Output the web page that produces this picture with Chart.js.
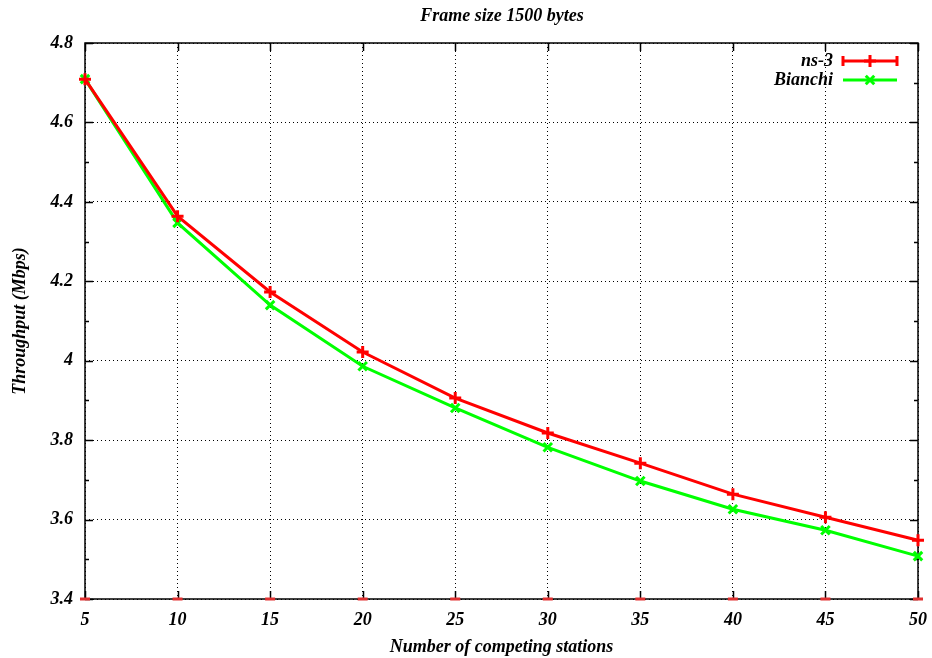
<!DOCTYPE html>
<html>
<head>
<meta charset="utf-8">
<script src="https://cdn.jsdelivr.net/npm/chart.js@4/dist/chart.umd.min.js"></script>
<style>
  html, body { margin: 0; padding: 0; background: #fff; }
  #c { display: block; }
</style>
</head>
<body>
<canvas id="c" width="932" height="658"></canvas>
<script>
// --- datos ---
const stations = [5, 10, 15, 20, 25, 30, 35, 40, 45, 50];
const ns3 = [4.709, 4.364, 4.173, 4.022, 3.906, 3.818, 3.742, 3.664, 3.606, 3.548];
const bianchi = [4.709, 4.347, 4.140, 3.986, 3.881, 3.782, 3.697, 3.626, 3.573, 3.508];
const floorMarks = [3.4, 3.4, 3.4, 3.4, 3.4, 3.4, 3.4, 3.4, 3.4, 3.4];
const seriesNames = ['ns-3', 'Bianchi'];

const FONT = 'Liberation Serif, Times New Roman, serif';
const RED = '#ff0000';
const GREEN = '#00ff00';

function pts(ys) {
    return stations.map((x, i) => ({ x: x, y: ys[i] }));
}

// marco, ticks hacia adentro, titulo y leyenda estilo gnuplot
const gnuplotLook = {
    id: 'gnuplotLook',
    beforeDatasetsDraw(chart) {
        const ctx = chart.ctx;
        const { left, right, top, bottom } = chart.chartArea;
        const xs = chart.scales.x, ys = chart.scales.y;
        ctx.save();
        ctx.strokeStyle = '#000';
        ctx.lineWidth = 1.5;
        ctx.setLineDash([]);
        ctx.strokeRect(left, top, right - left, bottom - top);

        ctx.beginPath();
        stations.forEach(v => {
            const px = Math.round(xs.getPixelForValue(v)) + 0.5;
            ctx.moveTo(px, bottom); ctx.lineTo(px, bottom - 8);
            ctx.moveTo(px, top); ctx.lineTo(px, top + 8);
        });
        for (let k = 0; k <= 14; k++) {
            const v = 3.4 + k * 0.1;
            const py = Math.round(ys.getPixelForValue(v)) + 0.5;
            const len = (k % 2 === 0) ? 8 : 4;
            ctx.moveTo(left, py); ctx.lineTo(left + len, py);
            ctx.moveTo(right, py); ctx.lineTo(right - len, py);
        }
        ctx.stroke();
        ctx.restore();
    },
    afterDraw(chart) {
        const ctx = chart.ctx;
        ctx.save();
        // titulo
        ctx.fillStyle = '#000';
        ctx.font = 'italic bold 18px ' + FONT;
        ctx.textAlign = 'center';
        ctx.textBaseline = 'middle';
        ctx.fillText('Frame size 1500 bytes', 502, 16);

        // leyenda
        const entries = [
            { label: seriesNames[0], color: RED, style: 'cross', y: 61 },
            { label: seriesNames[1], color: GREEN, style: 'crossRot', y: 80 }
        ];
        entries.forEach(e => {
            ctx.fillStyle = '#000';
            ctx.font = 'italic bold 18px ' + FONT;
            ctx.textAlign = 'right';
            ctx.fillText(e.label, 833, e.y);
            ctx.strokeStyle = e.color;
            ctx.lineWidth = 3;
            ctx.beginPath();
            ctx.moveTo(843, e.y); ctx.lineTo(897, e.y);
            if (e.style === 'cross') {
                ctx.moveTo(843, e.y - 5); ctx.lineTo(843, e.y + 5);
                ctx.moveTo(897, e.y - 5); ctx.lineTo(897, e.y + 5);
            }
            ctx.stroke();
            Chart.helpers.drawPoint(ctx, {
                pointStyle: e.style, radius: 6, borderWidth: 3
            }, 870, e.y);
        });
        ctx.restore();
    }
};

new Chart(document.getElementById('c'), {
    type: 'line',
    data: {
        datasets: [
            {
                label: 'floor',
                data: pts(floorMarks),
                showLine: false,
                borderColor: '#e03030',
                backgroundColor: '#e03030',
                pointStyle: 'line',
                pointRadius: 5,
                pointBorderWidth: 3,
                clip: false
            },
            {
                label: seriesNames[0],
                data: pts(ns3),
                borderColor: RED,
                backgroundColor: RED,
                borderWidth: 3,
                pointStyle: 'cross',
                pointRadius: 6,
                pointBorderWidth: 3,
                tension: 0,
                clip: false
            },
            {
                label: seriesNames[1],
                data: pts(bianchi),
                borderColor: GREEN,
                backgroundColor: GREEN,
                borderWidth: 3,
                pointStyle: 'crossRot',
                pointRadius: 6,
                pointBorderWidth: 3,
                tension: 0,
                clip: false
            }
        ]
    },
    options: {
        responsive: false,
        animation: false,
        layout: { padding: { top: 43, right: 14, left: 0, bottom: 0 } },
        plugins: {
            legend: { display: false },
            title: { display: false },
            tooltip: { enabled: false }
        },
        scales: {
            x: {
                type: 'linear',
                min: 5,
                max: 50,
                afterBuildTicks: (axis) => { axis.ticks = stations.map(v => ({ value: v })); },
                afterFit: (s) => { s.height = 59; s.paddingLeft = 0; s.paddingRight = 0; },
                grid: { color: '#000', lineWidth: 1, drawTicks: false },
                border: { display: false, dash: [1, 3] },
                ticks: {
                    color: '#000',
                    padding: 11,
                    maxRotation: 0,
                    font: { family: FONT, size: 18, style: 'italic', weight: 'bold' }
                },
                title: {
                    display: true,
                    text: 'Number of competing stations',
                    color: '#000',
                    padding: { top: 0, bottom: 0 },
                    font: { family: FONT, size: 18, style: 'italic', weight: 'bold' }
                }
            },
            y: {
                min: 3.4,
                max: 4.8,
                afterFit: (s) => { s.width = 85; s.paddingTop = 0; s.paddingBottom = 0; },
                grid: { color: '#000', lineWidth: 1, drawTicks: false },
                border: { display: false, dash: [1, 3] },
                ticks: {
                    stepSize: 0.2,
                    color: '#000',
                    padding: 12,
                    font: { family: FONT, size: 18, style: 'italic', weight: 'bold' },
                    callback: (v) => String(Number(v.toFixed(1)))
                },
                title: {
                    display: true,
                    text: 'Throughput (Mbps)',
                    color: '#000',
                    padding: { top: 10, bottom: 0 },
                    font: { family: FONT, size: 18, style: 'italic', weight: 'bold' }
                }
            }
        }
    },
    plugins: [gnuplotLook]
});
</script>
</body>
</html>
